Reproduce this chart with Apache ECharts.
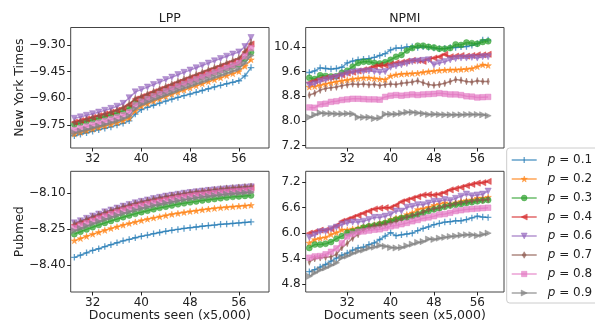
<!DOCTYPE html>
<html><head><meta charset="utf-8">
<script src="https://cdn.jsdelivr.net/npm/echarts@6/dist/echarts.min.js"></script>
<style>html,body{margin:0;padding:0;background:#fff}#c{width:595px;height:322px}</style>
</head><body><div id="c"></div>
<script>
// ---------- DATA ----------
const xLPP = [29,30,31,32,33,34,35,36,37,38,39,40,41,42,43,44,45,46,47,48,49,50,51,52,53,54,55,56,57,58];
const xNPMI = [25,26,27,28,29,30,31,32,33,34,35,36,37,38,39,40,41,42,43,44,45,46,47,48,49,50,51,52,53,54,55,56,57,58];
const seriesNames = ['p=0.1','p=0.2','p=0.3','p=0.4','p=0.6','p=0.7','p=0.8','p=0.9'];
const xTicks = [32,40,48,56];
const yTicksLppNyt = [-9.75,-9.60,-9.45,-9.30];
const yTicksNpmiNyt = [7.2,8.0,8.8,9.6,10.4];
const yTicksLppPub = [-8.40,-8.25,-8.10];
const yTicksNpmiPub = [4.8,5.4,6.0,6.6,7.2];

// New York Times, LPP (order: p=0.1,0.2,0.3,0.4,0.6,0.7,0.8,0.9)
const lppNyt = [
 [-9.812,-9.803,-9.795,-9.787,-9.778,-9.770,-9.762,-9.752,-9.742,-9.728,-9.690,-9.665,-9.652,-9.640,-9.628,-9.617,-9.606,-9.596,-9.586,-9.577,-9.567,-9.557,-9.547,-9.537,-9.528,-9.519,-9.511,-9.502,-9.475,-9.428],
 [-9.802,-9.793,-9.784,-9.775,-9.766,-9.757,-9.748,-9.738,-9.727,-9.712,-9.672,-9.645,-9.631,-9.617,-9.604,-9.591,-9.578,-9.566,-9.554,-9.542,-9.530,-9.519,-9.507,-9.496,-9.485,-9.473,-9.462,-9.450,-9.420,-9.383],
 [-9.748,-9.740,-9.731,-9.722,-9.713,-9.704,-9.694,-9.684,-9.672,-9.655,-9.625,-9.610,-9.596,-9.582,-9.569,-9.556,-9.543,-9.530,-9.517,-9.505,-9.493,-9.481,-9.469,-9.457,-9.445,-9.433,-9.421,-9.409,-9.378,-9.342],
 [-9.735,-9.726,-9.717,-9.708,-9.699,-9.689,-9.679,-9.668,-9.655,-9.636,-9.605,-9.592,-9.578,-9.564,-9.550,-9.537,-9.524,-9.510,-9.497,-9.484,-9.471,-9.458,-9.445,-9.432,-9.419,-9.406,-9.393,-9.380,-9.340,-9.295],
 [-9.714,-9.706,-9.697,-9.688,-9.679,-9.669,-9.658,-9.646,-9.630,-9.598,-9.565,-9.552,-9.538,-9.524,-9.510,-9.496,-9.482,-9.468,-9.455,-9.442,-9.429,-9.416,-9.403,-9.390,-9.377,-9.364,-9.352,-9.340,-9.310,-9.259],
 [-9.740,-9.730,-9.720,-9.710,-9.700,-9.690,-9.680,-9.668,-9.654,-9.632,-9.602,-9.590,-9.576,-9.562,-9.548,-9.534,-9.520,-9.506,-9.492,-9.479,-9.466,-9.453,-9.440,-9.427,-9.414,-9.401,-9.388,-9.374,-9.335,-9.286],
 [-9.780,-9.770,-9.760,-9.750,-9.740,-9.730,-9.720,-9.709,-9.697,-9.680,-9.640,-9.620,-9.605,-9.590,-9.576,-9.562,-9.548,-9.534,-9.520,-9.507,-9.494,-9.481,-9.468,-9.455,-9.442,-9.429,-9.416,-9.402,-9.365,-9.318],
 [-9.795,-9.786,-9.777,-9.767,-9.758,-9.748,-9.738,-9.728,-9.716,-9.700,-9.660,-9.636,-9.622,-9.608,-9.595,-9.582,-9.569,-9.556,-9.543,-9.531,-9.519,-9.507,-9.495,-9.483,-9.471,-9.459,-9.447,-9.435,-9.402,-9.360]
];

// New York Times, NPMI
const npmiNyt = [
 [9.57,9.62,9.72,9.70,9.68,9.70,9.74,9.88,9.94,9.98,10.00,10.02,10.06,10.12,10.18,10.30,10.36,10.36,10.40,10.40,10.38,10.40,10.39,10.36,10.34,10.35,10.38,10.38,10.40,10.41,10.45,10.50,10.62,10.62],
 [9.10,9.12,9.16,9.20,9.24,9.27,9.30,9.33,9.36,9.38,9.40,9.40,9.38,9.36,9.34,9.46,9.50,9.52,9.53,9.54,9.55,9.58,9.60,9.62,9.64,9.65,9.66,9.66,9.67,9.68,9.70,9.76,9.82,9.80],
 [9.40,9.36,9.48,9.46,9.44,9.45,9.56,9.63,9.76,9.88,9.92,9.92,9.88,9.86,9.90,9.98,10.08,10.14,10.28,10.36,10.44,10.44,10.40,10.38,10.34,10.34,10.36,10.48,10.46,10.54,10.52,10.50,10.56,10.58],
 [9.24,9.30,9.36,9.40,9.42,9.45,9.49,9.55,9.58,9.62,9.66,9.70,9.76,9.80,9.80,9.84,9.88,9.90,9.94,9.96,9.96,9.93,10.00,10.04,10.08,10.16,10.08,10.10,10.12,10.10,10.12,10.14,10.14,10.16],
 [9.16,9.20,9.28,9.33,9.38,9.42,9.48,9.54,9.58,9.60,9.60,9.62,9.60,9.58,9.60,9.74,9.78,9.82,9.86,9.92,9.94,9.96,9.98,9.82,9.88,9.92,9.98,10.02,10.04,10.04,10.06,10.04,10.08,10.08],
 [8.84,8.90,9.00,9.05,9.08,9.10,9.14,9.17,9.20,9.18,9.20,9.17,9.19,9.15,9.18,9.20,9.18,9.22,9.24,9.26,9.30,9.24,9.18,9.16,9.18,9.22,9.28,9.34,9.32,9.28,9.26,9.30,9.28,9.28],
 [8.44,8.43,8.54,8.56,8.62,8.64,8.68,8.70,8.72,8.72,8.71,8.70,8.70,8.69,8.78,8.82,8.84,8.82,8.84,8.86,8.84,8.86,8.87,8.88,8.90,8.88,8.86,8.86,8.84,8.80,8.79,8.76,8.77,8.78],
 [8.12,8.20,8.26,8.24,8.24,8.23,8.23,8.24,8.23,8.12,8.12,8.12,8.08,8.10,8.22,8.22,8.22,8.25,8.28,8.28,8.26,8.24,8.21,8.22,8.21,8.20,8.20,8.20,8.20,8.21,8.21,8.21,8.20,8.17]
];

// Pubmed, LPP
const lppPub = [
 [-8.369,-8.360,-8.350,-8.340,-8.333,-8.324,-8.316,-8.308,-8.300,-8.294,-8.287,-8.281,-8.276,-8.270,-8.265,-8.260,-8.256,-8.252,-8.248,-8.245,-8.242,-8.239,-8.236,-8.234,-8.231,-8.229,-8.227,-8.225,-8.223,-8.221],
 [-8.299,-8.290,-8.281,-8.272,-8.264,-8.256,-8.248,-8.241,-8.234,-8.227,-8.221,-8.215,-8.209,-8.204,-8.199,-8.194,-8.189,-8.185,-8.181,-8.177,-8.174,-8.170,-8.167,-8.164,-8.161,-8.159,-8.157,-8.155,-8.153,-8.151],
 [-8.272,-8.262,-8.252,-8.243,-8.234,-8.225,-8.217,-8.209,-8.201,-8.194,-8.187,-8.180,-8.174,-8.168,-8.162,-8.157,-8.152,-8.147,-8.143,-8.139,-8.135,-8.131,-8.128,-8.125,-8.122,-8.119,-8.116,-8.114,-8.112,-8.110],
 [-8.233,-8.223,-8.213,-8.203,-8.194,-8.185,-8.177,-8.169,-8.161,-8.154,-8.147,-8.141,-8.135,-8.129,-8.124,-8.119,-8.114,-8.110,-8.106,-8.102,-8.099,-8.096,-8.093,-8.090,-8.087,-8.085,-8.083,-8.081,-8.079,-8.077],
 [-8.225,-8.216,-8.206,-8.196,-8.188,-8.179,-8.171,-8.163,-8.155,-8.148,-8.141,-8.135,-8.129,-8.123,-8.118,-8.113,-8.109,-8.105,-8.101,-8.098,-8.095,-8.092,-8.089,-8.087,-8.084,-8.082,-8.080,-8.078,-8.076,-8.074],
 [-8.229,-8.219,-8.209,-8.199,-8.190,-8.181,-8.173,-8.165,-8.157,-8.150,-8.143,-8.137,-8.131,-8.125,-8.120,-8.115,-8.110,-8.106,-8.102,-8.098,-8.095,-8.092,-8.089,-8.086,-8.083,-8.080,-8.078,-8.076,-8.074,-8.072],
 [-8.246,-8.236,-8.226,-8.216,-8.207,-8.198,-8.189,-8.181,-8.173,-8.166,-8.159,-8.153,-8.147,-8.141,-8.136,-8.131,-8.126,-8.121,-8.117,-8.113,-8.110,-8.107,-8.104,-8.101,-8.098,-8.096,-8.094,-8.092,-8.090,-8.088],
 [-8.258,-8.248,-8.238,-8.228,-8.219,-8.210,-8.201,-8.193,-8.185,-8.178,-8.171,-8.164,-8.158,-8.152,-8.147,-8.142,-8.137,-8.132,-8.128,-8.124,-8.120,-8.116,-8.113,-8.110,-8.107,-8.104,-8.102,-8.100,-8.098,-8.096]
];

// Pubmed, NPMI
const npmiPub = [
 [5.09,5.14,5.20,5.26,5.34,5.41,5.48,5.53,5.60,5.65,5.67,5.73,5.77,5.85,5.93,6.01,5.94,5.96,5.98,6.00,6.06,6.11,6.15,6.20,6.23,6.26,6.27,6.29,6.29,6.32,6.36,6.40,6.38,6.37],
 [5.77,5.85,5.88,5.90,5.97,6.01,6.08,6.08,6.10,6.12,6.16,6.18,6.20,6.24,6.26,6.32,6.36,6.38,6.44,6.48,6.56,6.58,6.61,6.66,6.69,6.72,6.69,6.72,6.75,6.77,6.79,6.83,6.83,6.85],
 [5.65,5.73,5.73,5.75,5.79,5.87,5.93,6.01,6.04,6.08,6.13,6.16,6.18,6.21,6.24,6.28,6.32,6.36,6.37,6.40,6.44,6.48,6.52,6.56,6.59,6.62,6.65,6.67,6.69,6.71,6.73,6.75,6.77,6.78],
 [6.00,6.03,6.07,6.07,6.10,6.18,6.28,6.32,6.37,6.42,6.47,6.52,6.57,6.59,6.60,6.60,6.66,6.74,6.78,6.82,6.86,6.90,6.91,6.90,6.92,6.96,7.02,7.05,7.08,7.12,7.15,7.18,7.19,7.22],
 [5.90,5.96,6.03,6.04,6.10,6.14,6.20,6.24,6.26,6.26,6.28,6.32,6.37,6.37,6.40,6.44,6.52,6.52,6.61,6.63,6.67,6.67,6.71,6.75,6.75,6.79,6.77,6.82,6.87,6.92,6.88,6.90,6.92,6.99],
 [5.32,5.40,5.42,5.43,5.44,5.50,5.66,5.76,5.88,5.97,6.08,6.14,6.17,6.19,6.21,6.24,6.28,6.33,6.38,6.42,6.45,6.50,6.56,6.58,6.60,6.64,6.66,6.70,6.72,6.74,6.76,6.78,6.78,6.80],
 [5.42,5.45,5.46,5.50,5.56,5.64,5.76,5.92,5.98,6.03,6.04,6.06,6.08,6.09,6.12,6.16,6.18,6.21,6.24,6.28,6.31,6.35,6.37,6.40,6.44,6.45,6.48,6.52,6.54,6.56,6.57,6.58,6.59,6.60],
 [4.98,5.06,5.13,5.18,5.24,5.30,5.42,5.46,5.52,5.57,5.60,5.65,5.67,5.71,5.69,5.66,5.65,5.66,5.70,5.74,5.78,5.80,5.86,5.85,5.88,5.90,5.92,5.93,5.95,5.96,5.96,5.94,5.97,6.00]
];

// ---------- STYLE ----------
const colors = ['#1f77b4','#ff7f0e','#2ca02c','#d62728','#9467bd','#8c564b','#e377c2','#7f7f7f'];
const symbols = [
  'path://M0,5L10,5M5,0L5,10',
  'path://M50,0L61,35L98,35L68,57L79,91L50,70L21,91L32,57L2,35L39,35Z',
  'circle',
  'path://M0,5L10,0L10,10Z',
  'path://M0,0L10,0L5,10Z',
  'path://M3,0L6,5L3,10L0,5Z',
  'rect',
  'path://M0,0L10,5L0,10Z'
];
const symSizes = [6.5, 6.5, 6, 6.2, 6.2, [4, 6.8], 5.6, 6.2];
const FONT = 'DejaVu Sans';
const ALPHA = 0.7;

const grids = [
  {left:70.7, top:27.5, width:198.3, height:120.5},
  {left:305.7, top:27.5, width:198.3, height:120.5},
  {left:70.7, top:171.3, width:198.3, height:120.7},
  {left:305.7, top:171.3, width:198.3, height:120.7}
].map(g => Object.assign({show:true, borderColor:'#444', borderWidth:1, backgroundColor:'transparent'}, g));

function fmt(dec){ return v => (v < 0 ? '\u2212' : '') + Math.abs(v).toFixed(dec); }

function xAxis(gi, min, max){
  return {type:'value', gridIndex:gi, min:min, max:max,
    axisLine:{show:false}, splitLine:{show:false},
    axisTick:{show:true, length:3.5, lineStyle:{color:'#222', width:1}, customValues:xTicks},
    axisLabel:{show:true, customValues:xTicks, margin:5, color:'#222', fontFamily:FONT, fontSize:12, formatter:fmt(0)}};
}
function yAxis(gi, min, max, ticks, dec){
  return {type:'value', gridIndex:gi, min:min, max:max,
    axisLine:{show:false}, splitLine:{show:false},
    axisTick:{show:true, length:3.5, lineStyle:{color:'#222', width:1}, customValues:ticks},
    axisLabel:{show:true, customValues:ticks, margin:5, color:'#222', fontFamily:FONT, fontSize:12, formatter:fmt(dec)}};
}

const panels = [
  {x:xLPP, ys:lppNyt}, {x:xNPMI, ys:npmiNyt}, {x:xLPP, ys:lppPub}, {x:xNPMI, ys:npmiPub}
];

const series = [];
panels.forEach((p, gi) => {
  p.ys.forEach((ys, si) => {
    series.push({
      type:'line', name:seriesNames[si], xAxisIndex:gi, yAxisIndex:gi,
      data: p.x.map((xv, k) => [xv, ys[k]]),
      symbol: symbols[si], symbolSize: symSizes[si], symbolKeepAspect:true,
      showSymbol:true, showAllSymbol:true, clip:true,
      lineStyle:{color:colors[si], width:1.5, opacity:ALPHA},
      itemStyle:{color:colors[si], borderColor:colors[si], borderWidth: si===0 ? 1.3 : 0.6, opacity:ALPHA},
      emphasis:{disabled:true}, z: 2 + si
    });
  });
});

const txt = (t, x, y, rot) => ({type:'text', x:x, y:y, rotation:rot||0, silent:true,
  style:{text:t, fill:'#222', font:'12.5px "DejaVu Sans"', align:'center', verticalAlign:'middle'}});

// legend keys (line + marker), drawn beside the legend's text rows
const LEG_TOP = 148, ROW_H = 19, FIRST_CY = 160, LX1 = 511.7, LX2 = 536.7;
function legendKey(i){
  const cy = FIRST_CY + ROW_H * i, cx = (LX1 + LX2) / 2, c = colors[i];
  const st = {fill:c, stroke:c, lineWidth:0.6, opacity:ALPHA};
  const els = [{type:'line', z:100, silent:true, shape:{x1:LX1, y1:cy, x2:LX2, y2:cy}, style:{stroke:c, lineWidth:1.5, opacity:ALPHA}}];
  const poly = pts => ({type:'polygon', z:101, silent:true, shape:{points:pts.map(q => [cx + q[0], cy + q[1]])}, style:st});
  const h = 3;
  if (i === 0) {
    els.push({type:'line', z:101, silent:true, shape:{x1:cx, y1:cy-h, x2:cx, y2:cy+h}, style:{stroke:c, lineWidth:1.3, opacity:ALPHA}});
  } else if (i === 1) {
    const s = [[50,0],[61,35],[98,35],[68,57],[79,91],[50,70],[21,91],[32,57],[2,35],[39,35]];
    els.push(poly(s.map(q => [q[0]/98*6.4 - 3.2, q[1]/91*6 - 3])));
  } else if (i === 2) {
    els.push({type:'circle', z:101, silent:true, shape:{cx:cx, cy:cy, r:2.9}, style:st});
  } else if (i === 3) {
    els.push(poly([[-h,0],[h,-h],[h,h]]));
  } else if (i === 4) {
    els.push(poly([[-h,-h],[h,-h],[0,h]]));
  } else if (i === 5) {
    els.push(poly([[0,-3.3],[2,0],[0,3.3],[-2,0]]));
  } else if (i === 6) {
    els.push({type:'rect', z:101, silent:true, shape:{x:cx-2.7, y:cy-2.7, width:5.4, height:5.4}, style:st});
  } else {
    els.push(poly([[-h,-h],[h,0],[-h,h]]));
  }
  return els;
}
const legendKeys = [];
seriesNames.forEach((n, i) => legendKey(i).forEach(e => legendKeys.push(e)));

const chart = echarts.init(document.getElementById('c'), null, {renderer:'canvas'});
chart.setOption({
  animation:false,
  backgroundColor:'#fff',
  grid: grids,
  xAxis:[xAxis(0, 28.4, 60.95), xAxis(1, 24.33, 60.93), xAxis(2, 28.4, 60.95), xAxis(3, 24.33, 60.93)],
  yAxis:[yAxis(0, -9.881, -9.202, yTicksLppNyt, 2), yAxis(1, 7.126, 11.027, yTicksNpmiNyt, 1),
         yAxis(2, -8.514, -8.009, yTicksLppPub, 2), yAxis(3, 4.611, 7.459, yTicksNpmiPub, 1)],
  legend:{
    orient:'vertical', left:506.7, top:LEG_TOP, padding:[6,12,4,5],
    itemWidth:25, itemHeight:7, itemGap:ROW_H - 12, selectedMode:false,
    itemStyle:{opacity:0}, lineStyle:{opacity:0},
    backgroundColor:'rgba(255,255,255,0.8)', borderColor:'#ccc', borderWidth:1, borderRadius:3,
    data: seriesNames,
    formatter: n => '{i|p} = ' + n.split('=')[1],
    textStyle:{fontFamily:FONT, fontSize:12, color:'#222', lineHeight:12, padding:[0,0,0,5],
      rich:{i:{fontFamily:FONT, fontStyle:'italic', fontSize:12, lineHeight:12, color:'#222'}}}
  },
  graphic:[
    txt('LPP', 169.85, 18.3), txt('NPMI', 404.85, 18.3),
    txt('New York Times', 20, 87.7, Math.PI/2), txt('Pubmed', 20, 231.7, Math.PI/2),
    txt('Documents seen (x5,000)', 169.85, 316), txt('Documents seen (x5,000)', 404.85, 316)
  ].concat(legendKeys),
  series: series
});
</script></body></html>
